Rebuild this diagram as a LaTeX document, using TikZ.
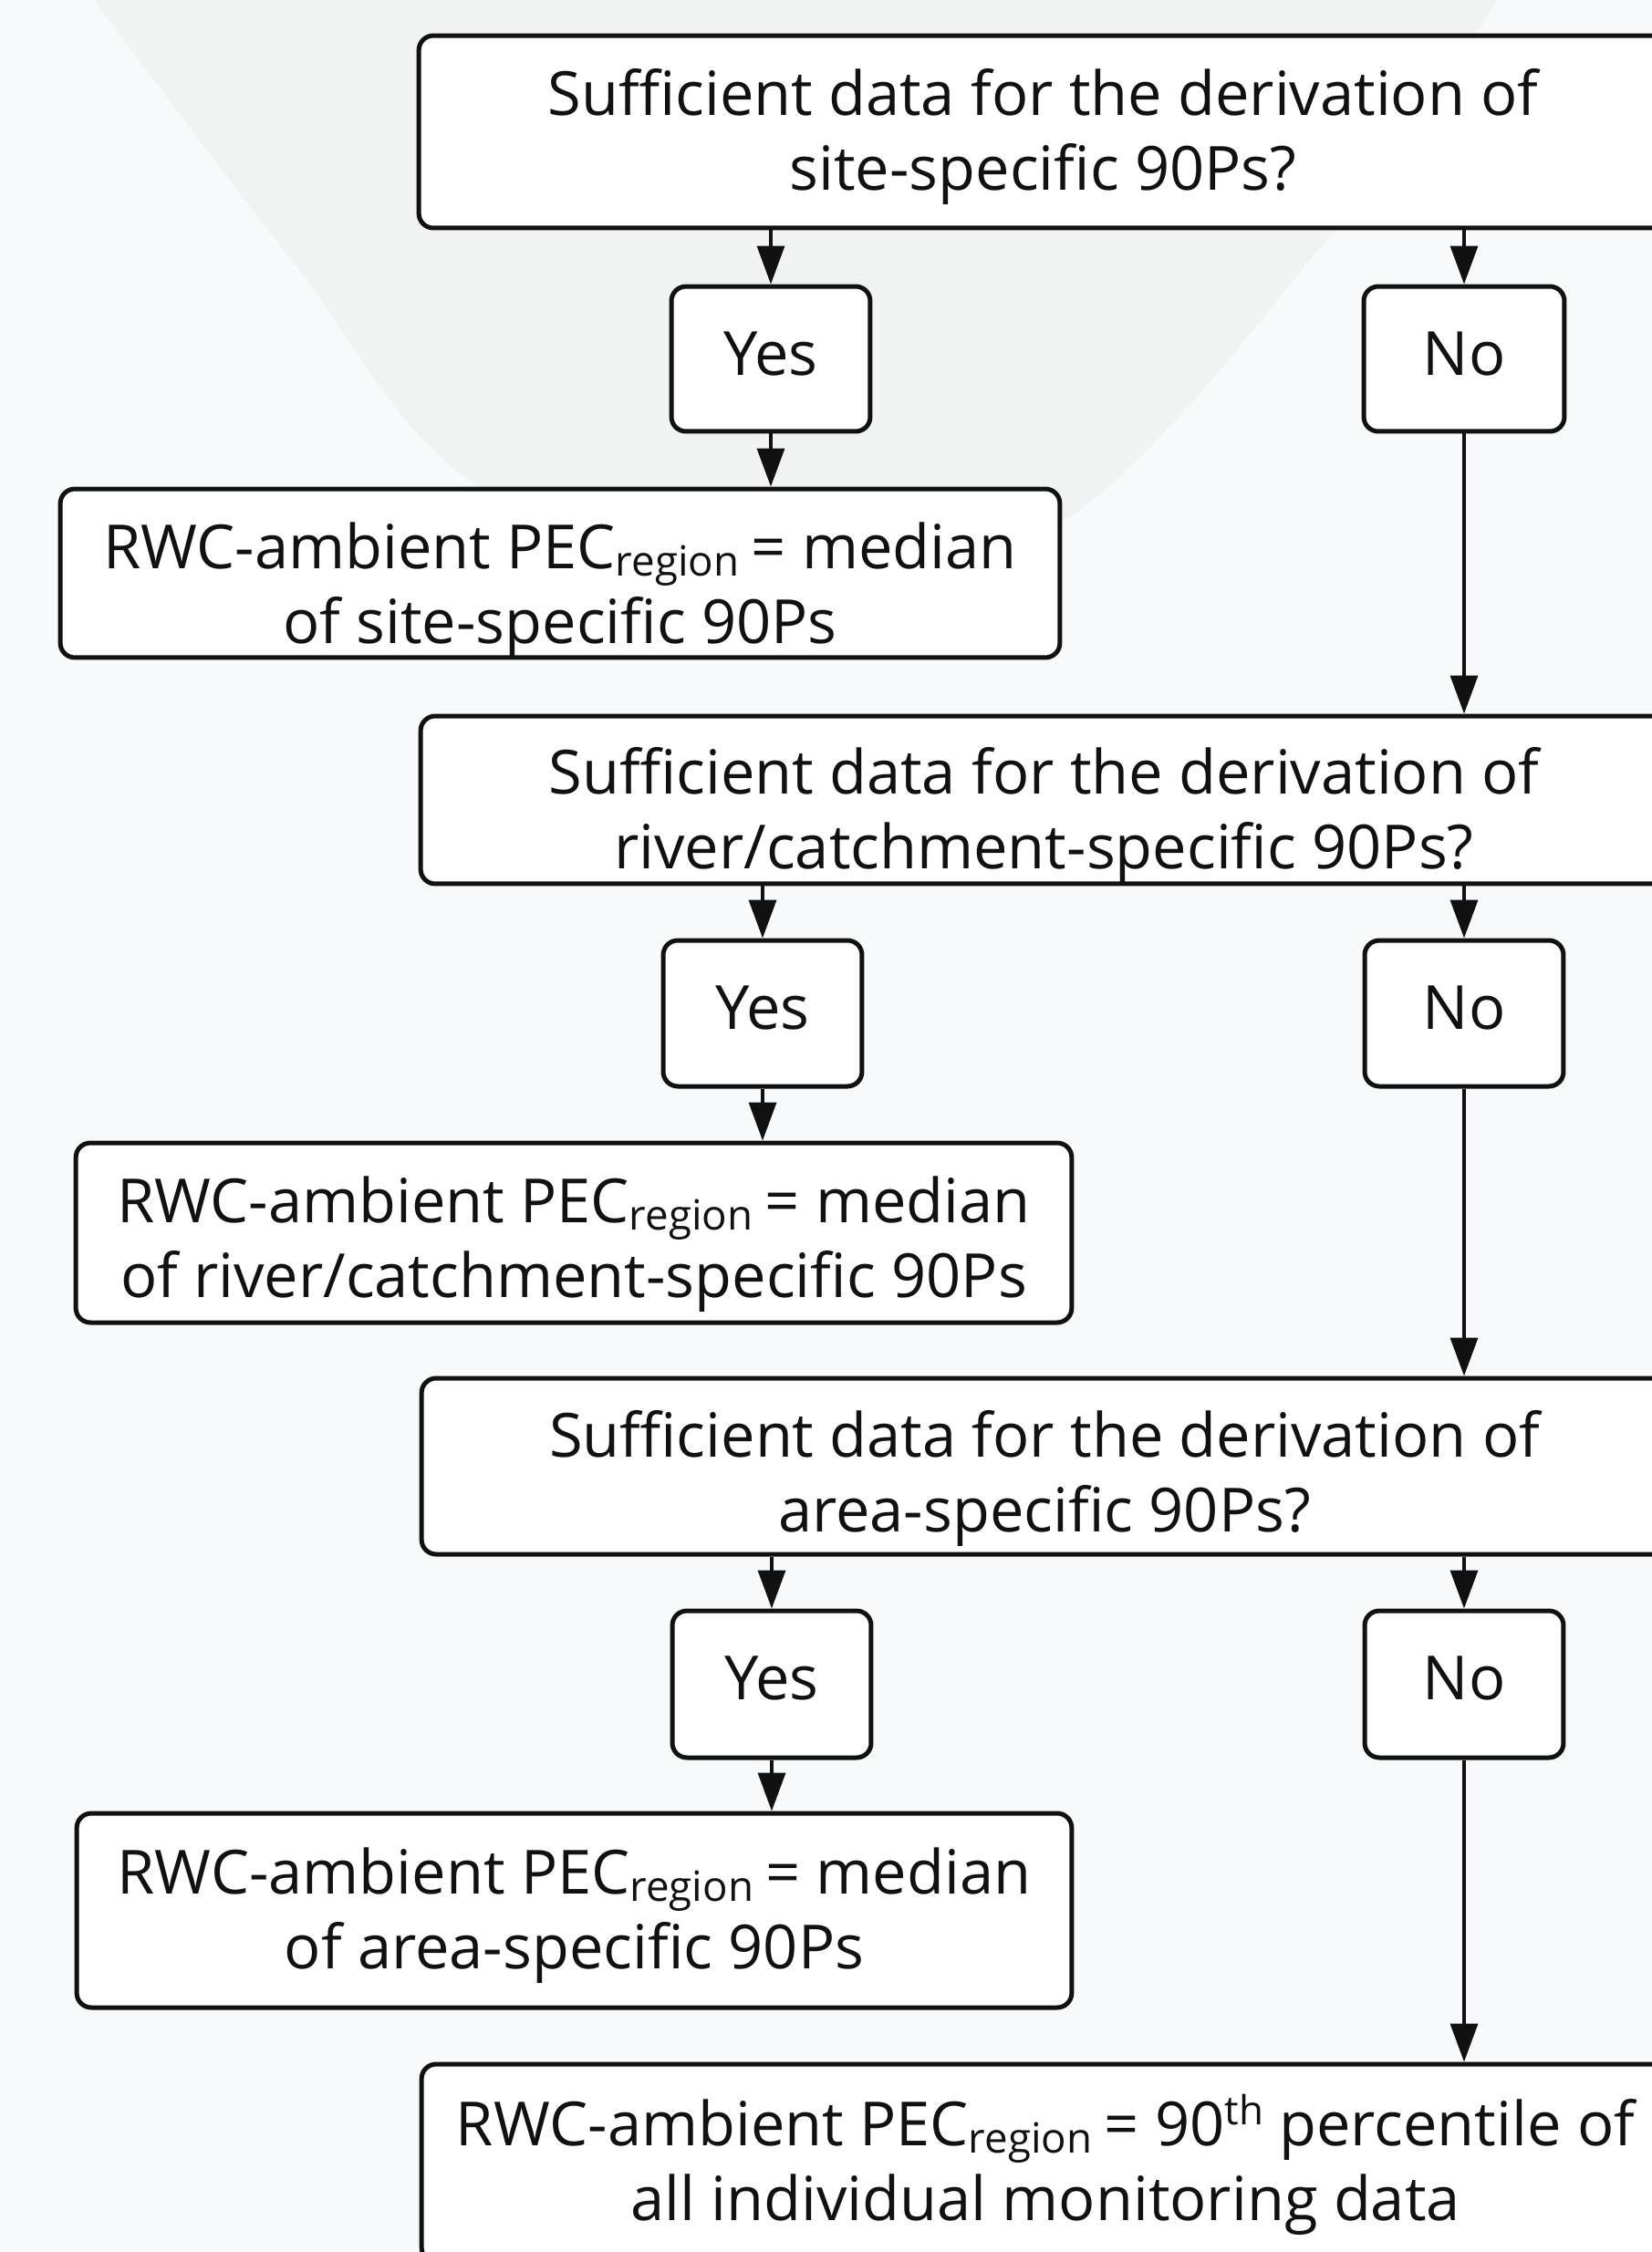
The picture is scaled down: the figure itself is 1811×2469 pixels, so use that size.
\documentclass[tikz,border=0pt]{standalone}
\usepackage{fontspec}
\setmainfont{Open Sans}
\usetikzlibrary{arrows.meta}
\definecolor{bgc}{HTML}{F8F9FB}
\definecolor{blobc}{HTML}{F1F2F2}
\definecolor{inkc}{HTML}{111111}
\newcommand\sbs[1]{\raisebox{-5pt}{\fontsize{26pt}{26pt}\selectfont #1}}
\newcommand\sps[1]{\raisebox{13pt}{\fontsize{25pt}{25pt}\selectfont #1}}
% box text: width, height, first-baseline distance from top, text
\newcommand\bt[4]{\parbox[c][#2][t]{#1}{\centering\rule{0pt}{#3}#4\par}}
\begin{document}
\begin{tikzpicture}[x=0.02cm,y=-0.02cm,
  box/.style={draw=inkc, line width=0.1cm, rounded corners=0.32cm, fill=white,
    inner sep=0pt, text=inkc, font=\fontsize{38pt}{47pt}\selectfont},
  link/.style={draw=inkc, line width=0.07cm, -{Triangle[width=0.6cm,length=0.84cm]}}]
\useasboundingbox (0,0) rectangle (1811,2469);
\clip (0,0) rectangle (1811,2469);
\fill[bgc] (0,0) rectangle (1811,2469);
\fill[blobc] plot[smooth,tension=0.6] coordinates {(95,-10) (321,287) (517,528) (840,645) (1161,574) (1458,258) (1648,-10)} -- cycle;

\node[box] (q1) at (1143.5,144.5) {\bt{27.38cm}{4.22cm}{1.74cm}{Sufficient data for the derivation of\\site-specific 90Ps?}};
\node[box] (y1) at (845,393.5) {\bt{4.36cm}{3.18cm}{1.94cm}{Yes}};
\node[box] (n1) at (1605,393.5) {\bt{4.4cm}{3.18cm}{1.94cm}{No}};
\node[box] (r1) at (614,628.5) {\bt{21.92cm}{3.7cm}{1.74cm}{RWC-ambient PEC\sbs{region}\hspace{0.2em}= median\\of site-specific 90Ps}};

\node[box] (q2) at (1144.5,877) {\bt{27.34cm}{3.68cm}{1.7cm}{Sufficient data for the derivation of\\river/catchment-specific 90Ps?}};
\node[box] (y2) at (836,1111) {\bt{4.36cm}{3.2cm}{1.94cm}{Yes}};
\node[box] (n2) at (1605,1111) {\bt{4.36cm}{3.2cm}{1.94cm}{No}};
\node[box] (r2) at (629,1351.5) {\bt{21.84cm}{3.94cm}{1.74cm}{RWC-ambient PEC\sbs{region}\hspace{0.2em}= median\\of river/catchment-specific 90Ps}};

\node[box] (q3) at (1145,1607.5) {\bt{27.32cm}{3.86cm}{1.72cm}{Sufficient data for the derivation of\\area-specific 90Ps?}};
\node[box] (y3) at (846,1846.5) {\bt{4.36cm}{3.22cm}{1.94cm}{Yes}};
\node[box] (n3) at (1605,1846.5) {\bt{4.36cm}{3.22cm}{1.94cm}{No}};
\node[box] (r3) at (629.5,2094.5) {\bt{21.82cm}{4.26cm}{1.76cm}{RWC-ambient PEC\sbs{region}\hspace{0.2em}= median\\of area-specific 90Ps}};

\node[box] (r4) at (1146,2371.5) {\bt{27.36cm}{4.34cm}{1.78cm}{RWC-ambient PEC\sbs{region}\hspace{0.2em}= 90\sps{th} percentile of\\all individual monitoring data}};

\draw[link] (q1.south -| y1.north) -- (y1.north);
\draw[link] (q1.south -| n1.north) -- (n1.north);
\draw[link] (y1.south) -- (y1.south |- r1.north);
\draw[link] (n1.south) -- (n1.south |- q2.north);

\draw[link] (q2.south -| y2.north) -- (y2.north);
\draw[link] (q2.south -| n2.north) -- (n2.north);
\draw[link] (y2.south) -- (y2.south |- r2.north);
\draw[link] (n2.south) -- (n2.south |- q3.north);

\draw[link] (q3.south -| y3.north) -- (y3.north);
\draw[link] (q3.south -| n3.north) -- (n3.north);
\draw[link] (y3.south) -- (y3.south |- r3.north);
\draw[link] (n3.south) -- (n3.south |- r4.north);
\end{tikzpicture}
\end{document}
